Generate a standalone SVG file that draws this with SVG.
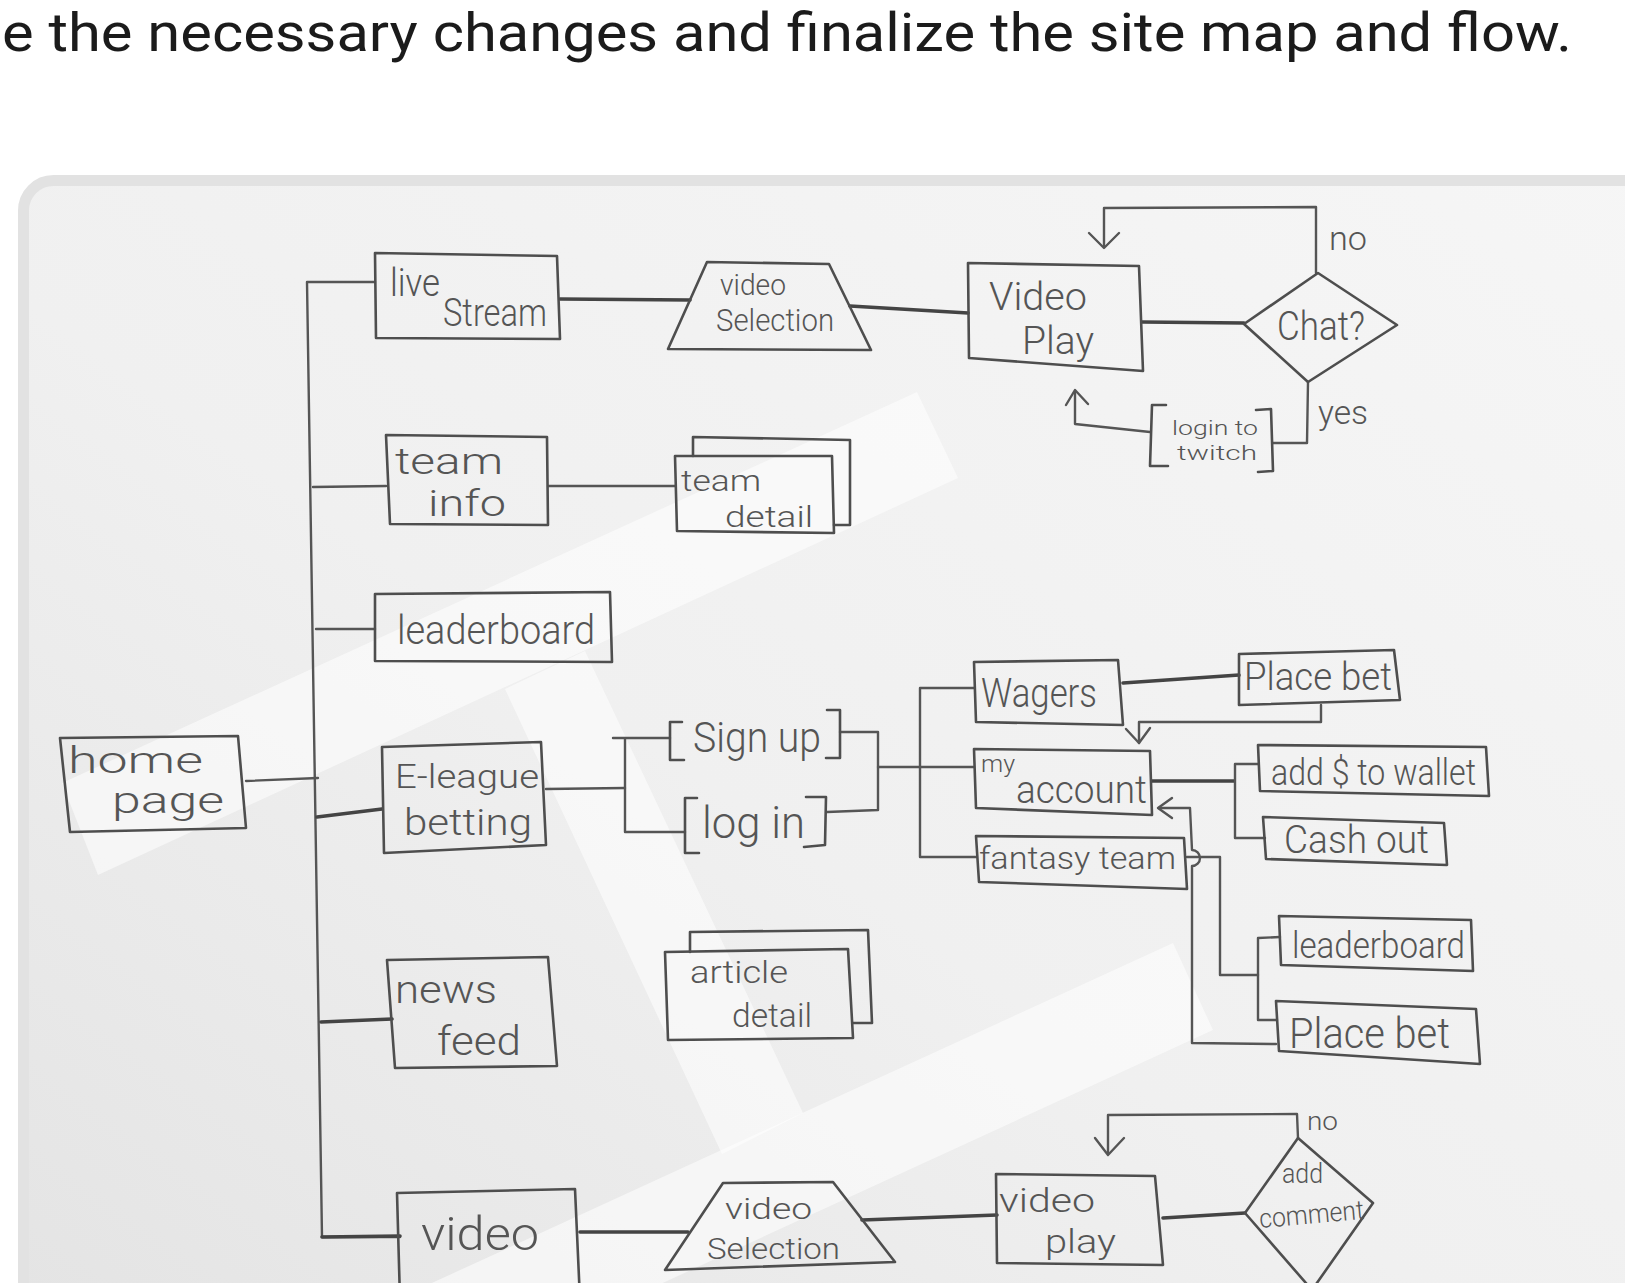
<svg xmlns="http://www.w3.org/2000/svg" width="1625" height="1283" viewBox="0 0 1625 1283">
<defs>
<style>
.box{fill:none;stroke:#4e4e4e;stroke-width:2.6;stroke-linejoin:round;stroke-linecap:round}
.ln{fill:none;stroke:#555;stroke-width:2.4;stroke-linecap:round;stroke-linejoin:round}
.thk{stroke:#444;stroke-width:3.6}
.t{font-family:Roboto,'Liberation Sans',sans-serif;font-weight:300;fill:#555}
.ov{fill:#ffffff;opacity:0.55}
</style>
<linearGradient id="paper" x1="1" y1="0" x2="0" y2="1">
<stop offset="0" stop-color="#f6f6f6"/>
<stop offset="0.55" stop-color="#f0f0f0"/>
<stop offset="1" stop-color="#e3e3e3"/>
</linearGradient>
</defs>
<rect x="0" y="0" width="1625" height="1283" fill="#ffffff"/>
<text x="2" y="51" font-family="Roboto,'Liberation Sans',sans-serif" font-size="54" fill="#1b1b1b" textLength="1570" lengthAdjust="spacingAndGlyphs">e the necessary changes and finalize the site map and flow.</text>
<g id="frame">
<rect x="23.5" y="180.5" width="1700" height="1200" rx="30" fill="url(#paper)" stroke="#e2e2e2" stroke-width="11"/>
<polygon class="ov" points="62,783 917,392 958,478 98,875"/>
<polygon class="ov" points="505,689 585,651 803,1113 722,1154"/>
<polygon class="ov" points="1173,943 1213,1030 641,1293 410,1293"/>
</g>
<g id="connectors">
<path class="ln" d="M375,282 L307,282 L322,1237 L400,1237"/>
<path class="ln" d="M313,487 L386,486"/>
<path class="ln" d="M316,629 L375,629"/>
<path class="ln" d="M246,781 L318,778"/>
<path class="ln thk" d="M317,817 L382,809"/>
<path class="ln thk" d="M321,1022 L392,1019"/>
<path class="ln thk" d="M322,1237 L400,1236"/>
<path class="ln thk" d="M560,299 L690,300"/>
<path class="ln thk" d="M850,306 L968,313"/>
<path class="ln thk" d="M1142,322 L1244,323"/>
<path class="ln" d="M1316,273 L1316,207 L1104,208 L1104,246"/>
<path class="ln" d="M1089,233 L1104,248 L1119,233"/>
<path class="ln" d="M1308,382 L1307,443 L1273,443"/>
<path class="ln" d="M1150,432 L1075,424 L1075,391"/>
<path class="ln" d="M1066,405 L1075,390 L1088,404"/>
<path class="ln" d="M548,486 L675,486"/>
<path class="ln" d="M546,789 L625,788"/>
<path class="ln" d="M613,738 L670,738 M625,738 L625,832 L685,832"/>
<path class="ln" d="M840,732 L878,732 L878,810 L827,812"/>
<path class="ln" d="M878,767 L974,767"/>
<path class="ln" d="M974,688 L920,688 L920,857 L976,857"/>
<path class="ln thk" d="M1123,683 L1239,675"/>
<path class="ln" d="M1321,705 L1321,722 L1139,722 L1139,743"/>
<path class="ln" d="M1126,729 L1139,743 L1150,728"/>
<path class="ln thk" d="M1152,781 L1234,781"/>
<path class="ln" d="M1258,764 L1235,764 L1235,838 L1265,838"/>
<path class="ln" d="M1187,857 L1220,857 L1220,975 L1258,975"/>
<path class="ln" d="M1280,937 L1258,938 L1258,1020 L1277,1020"/>
<path class="ln" d="M1276,1044 L1192,1043 L1192,866 A8,8 0 0 0 1192,850 L1190,808 L1159,808"/>
<path class="ln" d="M1172,798 L1158,808 L1172,818"/>
<path class="ln thk" d="M580,1232 L688,1232"/>
<path class="ln thk" d="M862,1220 L997,1215"/>
<path class="ln thk" d="M1163,1218 L1245,1213"/>
<path class="ln" d="M1298,1138 L1297,1114 L1108,1115 L1108,1153"/>
<path class="ln" d="M1095,1138 L1108,1155 L1124,1138"/>
</g>
<g id="home-page">
<polygon class="box" points="60,738 238,736 246,828 70,832"/>
<text class="t" x="68" y="773" font-size="36" textLength="135" lengthAdjust="spacingAndGlyphs">home</text>
<text class="t" x="112" y="813" font-size="36" textLength="112" lengthAdjust="spacingAndGlyphs">page</text>
</g>
<g id="live-stream">
<polygon class="box" points="375,253 557,256 560,339 376,338"/>
<text class="t" x="390" y="296" font-size="38" textLength="50" lengthAdjust="spacingAndGlyphs">live</text>
<text class="t" x="443" y="326" font-size="38" textLength="104" lengthAdjust="spacingAndGlyphs">Stream</text>
</g>
<g id="video-selection-1">
<polygon class="box" points="707,262 829,264 871,350 668,349"/>
<text class="t" x="720" y="295" font-size="30" textLength="66" lengthAdjust="spacingAndGlyphs">video</text>
<text class="t" x="716" y="331" font-size="32" textLength="118" lengthAdjust="spacingAndGlyphs">Selection</text>
</g>
<g id="video-play-1">
<polygon class="box" points="968,263 1139,266 1143,371 969,358"/>
<text class="t" x="989" y="310" font-size="38" textLength="98" lengthAdjust="spacingAndGlyphs">Video</text>
<text class="t" x="1022" y="354" font-size="38" textLength="72" lengthAdjust="spacingAndGlyphs">Play</text>
</g>
<g id="chat">
<polygon class="box" points="1244,324 1318,273 1397,325 1308,382"/>
<text class="t" x="1277" y="340" font-size="40" textLength="88" lengthAdjust="spacingAndGlyphs">Chat?</text>
<text class="t" x="1329" y="250" font-size="34" textLength="38" lengthAdjust="spacingAndGlyphs">no</text>
<text class="t" x="1318" y="424" font-size="34" textLength="50" lengthAdjust="spacingAndGlyphs">yes</text>
</g>
<g id="login-to-twitch">
<path class="box" d="M1166,405 L1152,405 L1150,466 L1168,466 M1256,410 L1271,409 L1273,471 L1258,472"/>
<text class="t" x="1172" y="435" font-size="21" textLength="86" lengthAdjust="spacingAndGlyphs">login to</text>
<text class="t" x="1177" y="460" font-size="20" textLength="80" lengthAdjust="spacingAndGlyphs">twitch</text>
</g>
<g id="team-info">
<polygon class="box" points="386,435 547,437 548,525 390,524"/>
<text class="t" x="395" y="474" font-size="36" textLength="108" lengthAdjust="spacingAndGlyphs">team</text>
<text class="t" x="428" y="516" font-size="36" textLength="78" lengthAdjust="spacingAndGlyphs">info</text>
</g>
<g id="team-detail">
<path class="box" d="M693,456 L693,437 L850,440 L850,525 L834,525"/>
<polygon class="box" points="675,456 832,456 834,533 677,531"/>
<text class="t" x="681" y="491" font-size="30" textLength="80" lengthAdjust="spacingAndGlyphs">team</text>
<text class="t" x="725" y="527" font-size="30" textLength="88" lengthAdjust="spacingAndGlyphs">detail</text>
</g>
<g id="leaderboard-1">
<polygon class="box" points="375,594 610,592 612,662 375,661"/>
<text class="t" x="397" y="644" font-size="40" textLength="198" lengthAdjust="spacingAndGlyphs">leaderboard</text>
</g>
<g id="e-league-betting">
<polygon class="box" points="382,747 541,742 546,845 384,853"/>
<text class="t" x="395" y="788" font-size="34" textLength="144" lengthAdjust="spacingAndGlyphs">E-league</text>
<text class="t" x="404" y="835" font-size="36" textLength="128" lengthAdjust="spacingAndGlyphs">betting</text>
</g>
<g id="sign-up">
<path class="box" d="M682,722 L670,722 L670,760 L684,760 M827,710 L840,710 L840,758 L826,758"/>
<text class="t" x="693" y="752" font-size="42" textLength="128" lengthAdjust="spacingAndGlyphs">Sign up</text>
</g>
<g id="log-in">
<path class="box" d="M697,798 L685,798 L685,853 L699,853 M806,797 L826,797 L825,845 L804,847"/>
<text class="t" x="702" y="838" font-size="44" textLength="103" lengthAdjust="spacingAndGlyphs">log in</text>
</g>
<g id="news-feed">
<polygon class="box" points="387,960 548,957 557,1066 395,1068"/>
<text class="t" x="395" y="1003" font-size="38" textLength="102" lengthAdjust="spacingAndGlyphs">news</text>
<text class="t" x="437" y="1055" font-size="40" textLength="84" lengthAdjust="spacingAndGlyphs">feed</text>
</g>
<g id="article-detail">
<path class="box" d="M690,952 L690,932 L868,930 L872,1023 L853,1023"/>
<polygon class="box" points="665,952 848,949 853,1038 668,1040"/>
<text class="t" x="690" y="983" font-size="32" textLength="98" lengthAdjust="spacingAndGlyphs">article</text>
<text class="t" x="732" y="1027" font-size="34" textLength="80" lengthAdjust="spacingAndGlyphs">detail</text>
</g>
<g id="video">
<polygon class="box" points="397,1193 575,1189 580,1300 400,1300"/>
<text class="t" x="421" y="1250" font-size="46" textLength="118" lengthAdjust="spacingAndGlyphs">video</text>
</g>
<g id="video-selection-2">
<polygon class="box" points="723,1183 833,1182 895,1262 665,1270"/>
<text class="t" x="725" y="1219" font-size="30" textLength="87" lengthAdjust="spacingAndGlyphs">video</text>
<text class="t" x="707" y="1259" font-size="30" textLength="133" lengthAdjust="spacingAndGlyphs">Selection</text>
</g>
<g id="video-play-2">
<polygon class="box" points="996,1174 1155,1176 1163,1265 997,1263"/>
<text class="t" x="999" y="1212" font-size="34" textLength="96" lengthAdjust="spacingAndGlyphs">video</text>
<text class="t" x="1045" y="1253" font-size="34" textLength="71" lengthAdjust="spacingAndGlyphs">play</text>
</g>
<g id="add-comment">
<polygon class="box" points="1245,1213 1298,1138 1373,1203 1312,1290"/>
<text class="t" x="1282" y="1183" font-size="28" textLength="41" lengthAdjust="spacingAndGlyphs">add</text>
<text class="t" x="1260" y="1228" font-size="27" textLength="105" lengthAdjust="spacingAndGlyphs" transform="rotate(-5 1260 1228)">comment</text>
<text class="t" x="1307" y="1130" font-size="26" textLength="31" lengthAdjust="spacingAndGlyphs">no</text>
</g>
<g id="wagers">
<polygon class="box" points="974,662 1118,660 1123,725 976,722"/>
<text class="t" x="981" y="707" font-size="40" textLength="116" lengthAdjust="spacingAndGlyphs">Wagers</text>
</g>
<g id="place-bet-1">
<polygon class="box" points="1239,654 1394,650 1400,700 1239,705"/>
<text class="t" x="1244" y="690" font-size="38" textLength="148" lengthAdjust="spacingAndGlyphs">Place bet</text>
</g>
<g id="my-account">
<polygon class="box" points="974,749 1150,751 1152,815 976,808"/>
<text class="t" x="981" y="772" font-size="24" textLength="34" lengthAdjust="spacingAndGlyphs">my</text>
<text class="t" x="1016" y="803" font-size="38" textLength="131" lengthAdjust="spacingAndGlyphs">account</text>
</g>
<g id="add-to-wallet">
<polygon class="box" points="1258,745 1486,747 1489,796 1260,791"/>
<text class="t" x="1271" y="785" font-size="36" textLength="205" lengthAdjust="spacingAndGlyphs">add $ to wallet</text>
</g>
<g id="cash-out">
<polygon class="box" points="1263,817 1444,823 1447,865 1266,859"/>
<text class="t" x="1284" y="853" font-size="38" textLength="145" lengthAdjust="spacingAndGlyphs">Cash out</text>
</g>
<g id="fantasy-team">
<polygon class="box" points="976,836 1184,838 1187,889 979,882"/>
<text class="t" x="979" y="869" font-size="32" textLength="197" lengthAdjust="spacingAndGlyphs">fantasy team</text>
</g>
<g id="leaderboard-2">
<polygon class="box" points="1279,916 1471,920 1473,971 1281,965"/>
<text class="t" x="1292" y="958" font-size="36" textLength="173" lengthAdjust="spacingAndGlyphs">leaderboard</text>
</g>
<g id="place-bet-2">
<polygon class="box" points="1276,1001 1476,1009 1480,1064 1279,1051"/>
<text class="t" x="1289" y="1048" font-size="42" textLength="161" lengthAdjust="spacingAndGlyphs">Place bet</text>
</g>
</svg>
